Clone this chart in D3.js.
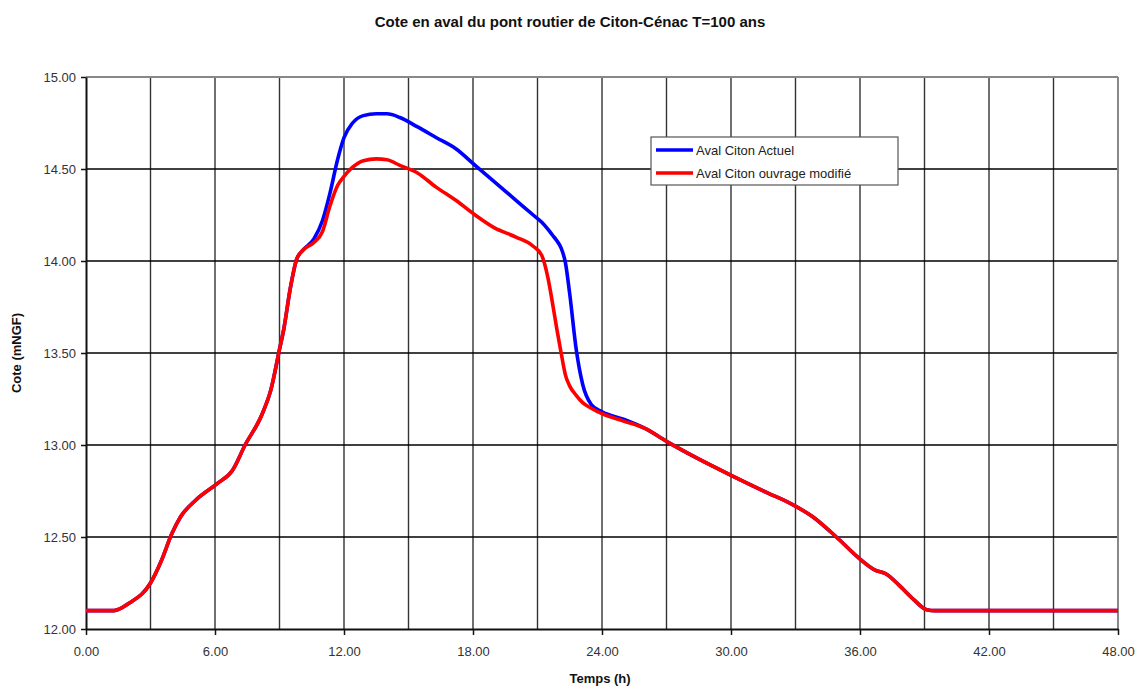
<!DOCTYPE html>
<html>
<head>
<meta charset="utf-8">
<script src="https://cdn.jsdelivr.net/npm/d3@7"></script>
<style>
  html, body { margin: 0; padding: 0; background: #fff; }
  svg { display: block; font-family: "Liberation Sans", Arial, sans-serif; }
</style>
</head>
<body>
<svg id="chart" width="1140" height="689"></svg>
<script>
// ---- Data ----
const times = [0, 1.3, 2.0, 3.0, 3.5, 4.0, 4.4, 5.1, 6.1, 6.8, 7.4, 8.2, 8.6, 9.0, 9.2, 9.5, 9.8, 10.1, 10.6, 11.0, 11.35, 11.7, 12.0, 12.4, 12.9, 13.5, 14.0, 14.6, 15.4, 16.3, 17.2, 18.1, 19.0, 20.0, 20.8, 21.2, 21.5, 21.7, 21.9, 22.1, 22.3, 22.5, 22.8, 23.1, 23.5, 24.0, 25.0, 26.0, 27.0, 28.4, 30.1, 31.7, 32.8, 33.8, 34.9, 36.0, 36.7, 37.2, 37.8, 38.5, 39.1, 39.5, 48];

const modifie = [12.10, 12.10, 12.14, 12.25, 12.37, 12.52, 12.61, 12.70, 12.79, 12.86, 13.00, 13.17, 13.30, 13.52, 13.63, 13.85, 14.01, 14.06, 14.10, 14.16, 14.30, 14.41, 14.46, 14.51, 14.545, 14.555, 14.55, 14.52, 14.48, 14.40, 14.33, 14.25, 14.18, 14.13, 14.08, 14.03, 13.90, 13.77, 13.63, 13.50, 13.38, 13.32, 13.27, 13.23, 13.20, 13.17, 13.13, 13.09, 13.02, 12.93, 12.83, 12.74, 12.68, 12.61, 12.50, 12.38, 12.32, 12.30, 12.24, 12.16, 12.105, 12.10, 12.10];

const actuel = [12.10, 12.10, 12.14, 12.25, 12.37, 12.52, 12.61, 12.70, 12.79, 12.86, 13.00, 13.17, 13.30, 13.52, 13.63, 13.85, 14.01, 14.06, 14.12, 14.22, 14.37, 14.55, 14.67, 14.75, 14.79, 14.80, 14.80, 14.78, 14.73, 14.67, 14.61, 14.52, 14.43, 14.33, 14.25, 14.21, 14.17, 14.14, 14.11, 14.07, 13.99, 13.82, 13.52, 13.33, 13.22, 13.18, 13.14, 13.09, 13.02, 12.93, 12.83, 12.74, 12.68, 12.61, 12.50, 12.38, 12.32, 12.30, 12.24, 12.16, 12.105, 12.10, 12.10];

const xTicks = [0, 6, 12, 18, 24, 30, 36, 42, 48];
const xGrid = [3, 6, 9, 12, 15, 18, 21, 24, 27, 30, 33, 36, 39, 42, 45];
const yTicks = [12.0, 12.5, 13.0, 13.5, 14.0, 14.5, 15.0];

const seriesNames = ["Aval Citon Actuel", "Aval Citon ouvrage modifié"];
const seriesColors = ["#0000ff", "#ff0000"];

const titleText = "Cote en aval du pont routier de Citon-Cénac T=100 ans";
const xLabel = "Temps (h)";
const yLabel = "Cote (mNGF)";

// ---- Layout ----
const svg = d3.select("#chart");
const L = 86, R = 1118, T = 77, B = 629;

const x = d3.scaleLinear().domain([0, 48]).range([L, R]);
const y = d3.scaleLinear().domain([12, 15]).range([B, T]);

// grid
const g = svg.append("g");
g.selectAll("line.vg").data(xGrid).enter().append("line")
  .attr("x1", d => x(d)).attr("x2", d => x(d))
  .attr("y1", T).attr("y2", B)
  .attr("stroke", "#333").attr("stroke-width", 1.4);
g.selectAll("line.hg").data(yTicks.filter(d => d > 12 && d < 15)).enter().append("line")
  .attr("x1", L).attr("x2", R)
  .attr("y1", d => y(d)).attr("y2", d => y(d))
  .attr("stroke", "#000").attr("stroke-width", 1.6);

// top/right border (gray)
svg.append("line").attr("x1", L).attr("x2", R).attr("y1", T).attr("y2", T)
  .attr("stroke", "#888").attr("stroke-width", 2);
svg.append("line").attr("x1", R).attr("x2", R).attr("y1", T).attr("y2", B)
  .attr("stroke", "#888").attr("stroke-width", 2);

// axes
const xAxis = d3.axisBottom(x).tickValues(xTicks).tickFormat(d3.format(".2f")).tickSize(6).tickSizeOuter(0);
const yAxis = d3.axisLeft(y).tickValues(yTicks).tickFormat(d3.format(".2f")).tickSize(5).tickSizeOuter(0);

const gx = svg.append("g").attr("transform", `translate(0,${B})`).call(xAxis);
const gy = svg.append("g").attr("transform", `translate(${L},0)`).call(yAxis);
[gx, gy].forEach(a => {
  a.select(".domain").attr("stroke", "#111").attr("stroke-width", 2);
  a.selectAll(".tick line").attr("stroke", "#111").attr("stroke-width", 1.5);
  a.selectAll(".tick text").attr("font-size", 13).attr("fill", "#333")
    .attr("font-family", "'Liberation Sans', Arial, sans-serif");
});
gx.selectAll(".tick text").attr("dy", "0").attr("y", 27);
gy.selectAll(".tick text").attr("x", -10).attr("dy", "0.36em");

// lines
const line = d3.line()
  .x((d, i) => x(times[i]))
  .y(d => y(d))
  .curve(d3.curveMonotoneX);

svg.append("path").datum(actuel).attr("d", line)
  .attr("fill", "none").attr("stroke", seriesColors[0]).attr("stroke-width", 3.6)
  .attr("stroke-linejoin", "round");
svg.append("path").datum(modifie).attr("d", line)
  .attr("fill", "none").attr("stroke", seriesColors[1]).attr("stroke-width", 3.6)
  .attr("stroke-linejoin", "round");

// title and axis labels
svg.append("text").attr("x", 570).attr("y", 27).attr("text-anchor", "middle")
  .attr("font-size", 15).attr("font-weight", "bold").attr("fill", "#111").text(titleText);
svg.append("text").attr("x", 600).attr("y", 683).attr("text-anchor", "middle")
  .attr("font-size", 13).attr("font-weight", "bold").attr("fill", "#111").text(xLabel);
svg.append("text").attr("transform", `translate(21,353) rotate(-90)`).attr("text-anchor", "middle")
  .attr("font-size", 13).attr("font-weight", "bold").attr("fill", "#111").text(yLabel);

// legend
const lg = svg.append("g");
lg.append("rect").attr("x", 651).attr("y", 137).attr("width", 247).attr("height", 48)
  .attr("fill", "#fff").attr("stroke", "#555").attr("stroke-width", 1.2);
seriesNames.forEach((n, i) => {
  const yy = 150 + i * 23;
  lg.append("line").attr("x1", 656).attr("x2", 693).attr("y1", yy).attr("y2", yy)
    .attr("stroke", seriesColors[i]).attr("stroke-width", 3.6);
  lg.append("text").attr("x", 696).attr("y", yy).attr("dy", "0.36em")
    .attr("font-size", 13).attr("fill", "#222").text(n);
});
</script>
</body>
</html>
